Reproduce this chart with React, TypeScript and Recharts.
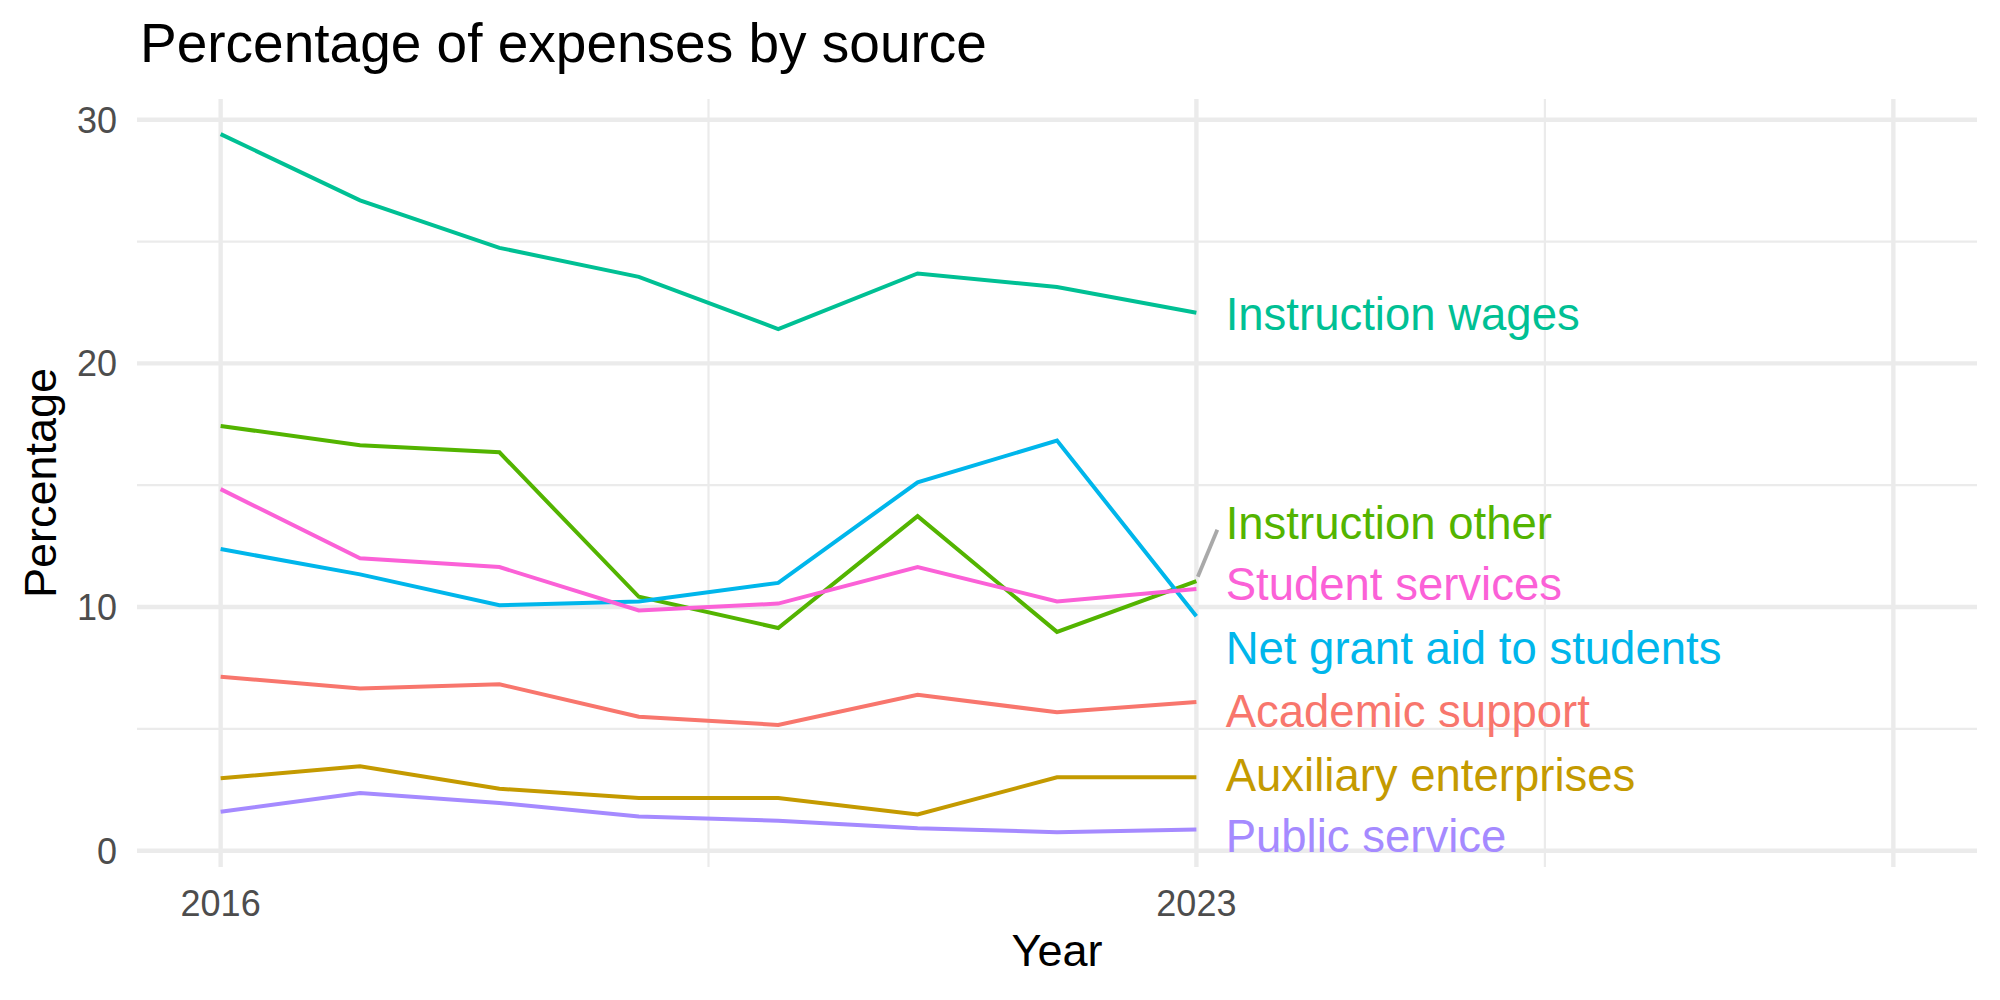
import { LineChart, Line, XAxis, YAxis, CartesianGrid, ReferenceDot, ReferenceLine, Label } from 'recharts';

const years = [2016, 2017, 2018, 2019, 2020, 2021, 2022, 2023];
const academicSupport = [7.14, 6.66, 6.83, 5.5, 5.16, 6.4, 5.68, 6.1];
const auxiliaryEnterprises = [2.97, 3.46, 2.54, 2.16, 2.16, 1.49, 3.01, 3.01];
const instructionOther = [17.43, 16.64, 16.35, 10.42, 9.14, 13.73, 8.98, 11.06];
const instructionWages = [29.41, 26.69, 24.74, 23.55, 21.41, 23.69, 23.13, 22.08];
const netGrantAid = [12.38, 11.34, 10.07, 10.23, 10.99, 15.12, 16.83, 9.62];
const publicService = [1.6, 2.37, 1.96, 1.4, 1.23, 0.92, 0.76, 0.87];
const studentServices = [14.84, 12.0, 11.64, 9.86, 10.14, 11.64, 10.23, 10.74];

// repelled label positions (data units)
const labelX = 2023.21;
const labelNames = ['Instruction wages', 'Instruction other', 'Student services', 'Net grant aid to students', 'Academic support', 'Auxiliary enterprises', 'Public service'];
const labelY = [22.02, 13.45, 10.94, 8.35, 5.74, 3.12, 0.6];
const otherSegment = [{ x: 2023.01, y: 11.24 }, { x: 2023.15, y: 13.17 }];

// major x breaks; the last one has no label
const xMajor = [2016, 2023, 2028];
const xTickLabels = ['2016', '2023', ''];
const xMinor = [2019.5, 2025.5];
const yMajor = [0, 10, 20, 30];
const yMinor = [5, 15, 25];

const X_DOMAIN = [2015.4, 2028.6];
const Y_DOMAIN = [-0.67, 30.85];

const series = [
  { key: 'academic', name: 'Academic support', values: academicSupport, color: '#F8766D' },
  { key: 'auxiliary', name: 'Auxiliary enterprises', values: auxiliaryEnterprises, color: '#C49A00' },
  { key: 'other', name: 'Instruction other', values: instructionOther, color: '#53B400' },
  { key: 'wages', name: 'Instruction wages', values: instructionWages, color: '#00C094' },
  { key: 'grant', name: 'Net grant aid to students', values: netGrantAid, color: '#00B6EB' },
  { key: 'public', name: 'Public service', values: publicService, color: '#A58AFF' },
  { key: 'student', name: 'Student services', values: studentServices, color: '#FB61D7' },
];

const data = years.map((year, i) => {
  const row: Record<string, number> = { year };
  series.forEach((s) => { row[s.key] = s.values[i]; });
  return row;
});

const FONT = '"Liberation Sans", Arial, Helvetica, sans-serif';

const XTick = (props: any) => {
  const label = xTickLabels[xMajor.indexOf(props.payload.value)] ?? '';
  return (
    <text x={props.x} y={props.y + 49} textAnchor="middle" fill="#4D4D4D" fontSize={36} fontFamily={FONT}>
      {label}
    </text>
  );
};

const YTick = (props: any) => (
  <text x={props.x - 20} y={props.y + 13} textAnchor="end" fill="#4D4D4D" fontSize={36} fontFamily={FONT}>
    {props.payload.value}
  </text>
);

export default function App() {
  return (
    <div style={{ position: 'absolute', left: 0, top: 0, width: 2000, height: 1000, background: '#fff' }}>
      <div style={{ position: 'absolute', left: 140, top: 16, fontSize: 55, lineHeight: '55px', fontFamily: FONT, color: '#000', whiteSpace: 'nowrap' }}>
        Percentage of expenses by source
      </div>
      <LineChart width={2000} height={1000} data={data} margin={{ top: 99, right: 23, bottom: 0, left: 0 }}>
        <CartesianGrid xAxisId="minor" yAxisId="minor" stroke="#EBEBEB" strokeWidth={2.2} syncWithTicks />
        <CartesianGrid stroke="#EBEBEB" strokeWidth={4.4} syncWithTicks />
        <XAxis
          dataKey="year"
          type="number"
          domain={X_DOMAIN}
          ticks={xMajor}
          interval={0}
          allowDataOverflow
          axisLine={false}
          tickLine={false}
          tickSize={0}
          tickMargin={0}
          height={133}
          tick={<XTick />}
        >
          <Label
            content={(p: any) => (
              <text x={p.viewBox.x + p.viewBox.width / 2} y={p.viewBox.y + 99} textAnchor="middle" fontSize={45} fontFamily={FONT} fill="#000">
                Year
              </text>
            )}
          />
        </XAxis>
        <XAxis xAxisId="minor" dataKey="year" type="number" domain={X_DOMAIN} ticks={xMinor} interval={0} allowDataOverflow hide />
        <YAxis
          type="number"
          domain={Y_DOMAIN}
          ticks={yMajor}
          interval={0}
          allowDataOverflow
          axisLine={false}
          tickLine={false}
          tickSize={0}
          tickMargin={0}
          width={137}
          tick={<YTick />}
        >
          <Label
            content={(p: any) => {
              const cx = 56;
              const cy = p.viewBox.y + p.viewBox.height / 2;
              return (
                <text x={cx} y={cy} transform={`rotate(-90 ${cx} ${cy})`} textAnchor="middle" fontSize={45} fontFamily={FONT} fill="#000">
                  Percentage
                </text>
              );
            }}
          />
        </YAxis>
        <YAxis yAxisId="minor" type="number" domain={Y_DOMAIN} ticks={yMinor} interval={0} allowDataOverflow hide />
        {series.map((s) => (
          <Line
            key={s.key}
            dataKey={s.key}
            stroke={s.color}
            strokeWidth={4}
            dot={false}
            activeDot={false}
            isAnimationActive={false}
          />
        ))}
        <ReferenceLine segment={otherSegment} stroke="#A9A9A9" strokeWidth={3.8} ifOverflow="visible" />
        {labelNames.map((name, i) => {
          const s = series.find((d) => d.name === name)!;
          return (
            <ReferenceDot
              key={name}
              x={labelX}
              y={labelY[i]}
              r={1}
              ifOverflow="visible"
              shape={(p: any) => (
                <text x={p.cx} y={p.cy + 16.3} fill={s.color} fontSize={45.5} fontFamily={FONT} textAnchor="start">
                  {name}
                </text>
              )}
            />
          );
        })}
      </LineChart>
    </div>
  );
}
